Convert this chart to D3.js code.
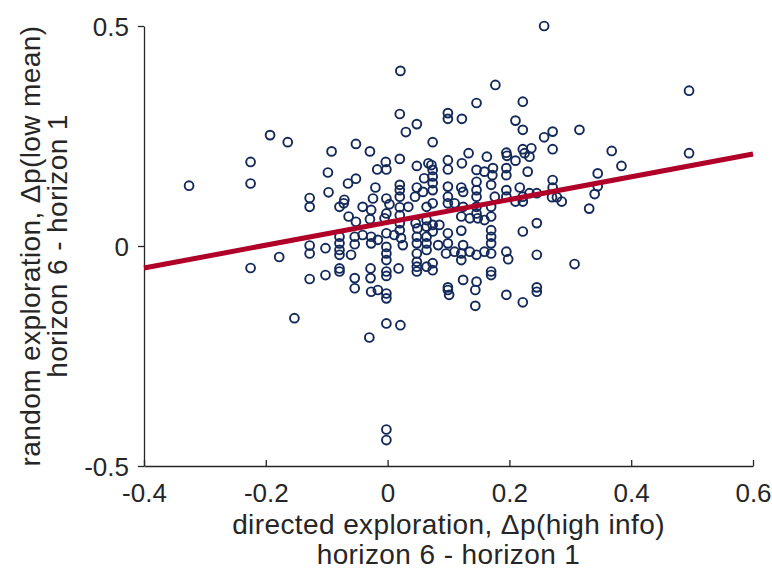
<html>
<head>
<meta charset="utf-8">
<script src="https://cdnjs.cloudflare.com/ajax/libs/d3/7.8.5/d3.min.js"></script>
<style>
body { margin: 0; background: #fff; }
svg { font-family: "Liberation Sans", Arial, sans-serif; }
</style>
</head>
<body>
<svg id="canvas" width="772" height="570"></svg>
<script>
// directed exploration (x) and random exploration (y), horizon 6 - horizon 1
var directedX = [
  -0.326,-0.193,-0.164,-0.225,-0.225,-0.225,-0.178,-0.153,-0.128,-0.128,-0.128,-0.128,-0.102,-0.128,-0.102,-0.092,-0.098,-0.097,
  0.020,0.048,0.030,-0.052,-0.029,0.020,-0.003,-0.002,-0.017,0.048,0.067,-0.052,-0.065,-0.020,0.020,0.020,0.048,0.060,-0.024,-0.002,-0.071,0.020,0.045,0.058,
  -0.072,-0.041,-0.027,0.003,0.020,0.034,0.064,-0.079,-0.064,-0.052,-0.029,-0.005,-0.002,0.020,0.020,0.046,0.049,0.064,0.064,
  -0.079,-0.079,-0.079,-0.079,-0.054,-0.054,-0.041,-0.027,-0.027,-0.016,-0.002,-0.002,-0.002,-0.002,0.011,0.020,0.022,0.025,
  0.048,0.048,0.064,0.064,0.064,0.048,-0.060,-0.079,-0.079,-0.028,-0.028,-0.002,-0.002,0.018,0.048,0.048,0.048,0.064,
  -0.054,-0.054,-0.027,-0.016,-0.002,-0.002,-0.002,0.021,-0.030,-0.002,-0.002,0.101,0.144,0.144,0.195,0.222,0.245,0.099,
  0.146,0.222,0.099,0.099,0.122,0.210,0.222,0.074,0.133,0.163,0.195,0.196,0.222,0.225,0.210,0.099,0.099,0.122,0.146,0.159,
  0.173,0.172,0.195,0.195,0.230,0.072,0.074,0.074,0.146,0.146,0.170,0.195,0.217,0.099,0.121,0.124,0.074,0.074,0.099,0.146,
  0.176,0.195,0.222,
  0.074,0.099,0.110,0.124,0.146,0.146,0.148,0.170,0.170,0.210,0.222,0.074,0.074,0.085,0.099,0.121,0.121,0.135,0.159,0.170,
  0.170,0.170,0.222,0.083,0.099,0.096,0.110,0.124,0.121,0.121,0.135,0.146,0.159,0.170,0.195,0.198,0.074,0.074,0.170,0.170,
  0.124,0.146,0.099,
  0.495,0.495,0.271,0.257,0.315,0.271,0.236,0.233,0.368,0.384,0.345,0.345,0.340,0.331,0.271,0.271,0.270,0.278,0.286,
  0.233,0.245,0.245,0.245,0.307,0.245,0.257,0.021,0.177
];
var randomY = [
  0.137,0.252,0.236,0.191,0.142,-0.050,-0.025,-0.164,0.109,0.089,0.001,-0.017,-0.005,-0.075,-0.066,0.215,0.167,0.122,
  0.300,0.277,0.259,0.232,0.215,0.198,0.191,0.174,0.174,0.182,0.188,0.153,0.142,0.133,0.139,0.127,0.133,0.154,0.108,0.108,0.105,0.112,0.112,0.123,
  0.097,0.089,0.082,0.095,0.088,0.089,0.089,0.089,0.067,0.055,0.061,0.063,0.074,0.070,0.052,0.052,0.040,0.059,0.044,
  0.021,0.006,-0.009,-0.020,0.021,0.004,0.025,0.021,0.006,0.014,0.029,-0.002,-0.017,-0.032,0.025,0.036,0.018,0.002,
  0.021,0.006,0.021,0.006,-0.009,-0.017,-0.020,-0.051,-0.058,-0.051,-0.073,-0.058,-0.068,-0.051,-0.036,-0.047,-0.058,-0.047,
  -0.073,-0.096,-0.104,-0.100,-0.108,-0.119,-0.176,-0.180,-0.208,-0.417,-0.441,-0.111,-0.100,-0.136,-0.111,-0.128,-0.104,-0.100,
  0.325,0.328,0.302,0.289,0.289,0.285,0.264,0.236,0.211,0.203,0.212,0.205,0.220,0.211,0.194,0.195,0.174,0.188,0.173,0.169,
  0.177,0.161,0.177,0.161,0.169,0.184,0.173,0.158,0.146,0.127,0.139,0.127,0.133,0.135,0.133,0.123,0.143,0.127,0.112,0.112,
  0.112,0.112,0.112,
  0.097,0.097,0.097,0.089,0.089,0.074,0.063,0.089,0.067,0.101,0.101,0.048,0.033,0.048,0.029,0.067,0.035,0.063,0.059,0.036,
  0.021,0.006,0.033,0.002,0.006,-0.017,-0.013,0.002,-0.017,-0.032,-0.013,-0.020,-0.013,-0.017,-0.013,-0.030,-0.039,-0.055,-0.058,-0.066,
  -0.077,-0.081,-0.094,
  0.353,0.211,0.260,0.247,0.264,0.220,0.222,0.203,0.216,0.182,0.165,0.136,0.118,0.085,0.150,0.133,0.111,0.111,0.101,
  0.120,0.120,0.052,-0.020,-0.041,-0.094,0.500,0.398,0.366
];
// least-squares line as drawn in the figure
var fitIntercept = 0.0536;
var fitSlope = 0.259;
var xTicks = [-0.4, -0.2, 0, 0.2, 0.4, 0.6];
var yTicks = [-0.5, 0, 0.5];

var svg = d3.select("#canvas");
var axisColor = "#262626";

var x = d3.scaleLinear().domain([-0.4, 0.6]).range([144, 753]);
var y = d3.scaleLinear().domain([-0.5, 0.5]).range([466, 26]);

var points = directedX.map(function(d, i) { return {x: d, y: randomY[i]}; });
var fmt = function(d) { return String(d); };   // plain hyphen like the original

// axes
var xAxis = svg.append("g").attr("transform", "translate(0,466)")
    .call(d3.axisBottom(x).tickValues(xTicks).tickFormat(fmt)
        .tickSizeInner(-6).tickSizeOuter(0).tickPadding(18));
var yAxis = svg.append("g").attr("transform", "translate(144,0)")
    .call(d3.axisLeft(y).tickValues(yTicks).tickFormat(fmt)
        .tickSizeInner(6).tickSizeOuter(0).tickPadding(9));

[xAxis, yAxis].forEach(function(a) {
    a.select(".domain").attr("stroke", axisColor).attr("stroke-width", 1.3);
    a.selectAll(".tick line").attr("stroke", axisColor).attr("stroke-width", 1.3);
    a.selectAll(".tick text").attr("fill", axisColor).style("font-size", "26px")
        .style("font-family", "'Liberation Sans', Arial, sans-serif");
});
xAxis.selectAll(".tick text").attr("dy", "0.71em");
yAxis.selectAll(".tick text").attr("dy", "0.35em");

// points
svg.append("g").selectAll("circle")
    .data(points)
    .enter().append("circle")
    .attr("cx", function(d) { return x(d.x); })
    .attr("cy", function(d) { return y(d.y); })
    .attr("r", 4.4)
    .attr("fill", "none")
    .attr("stroke", "#13295a")
    .attr("stroke-width", 1.9);

// regression line
svg.append("line")
    .attr("x1", x(-0.4)).attr("y1", y(fitIntercept + fitSlope * -0.4))
    .attr("x2", x(0.6)).attr("y2", y(fitIntercept + fitSlope * 0.6))
    .attr("stroke", "#b0002a")
    .attr("stroke-width", 5);

// axis titles
var xl = svg.append("text").attr("text-anchor", "middle").attr("fill", axisColor)
    .style("font-size", "28px").style("letter-spacing", "0.4px");
xl.append("tspan").attr("x", 448.5).attr("y", 534).text("directed exploration, \u0394p(high info)");
xl.append("tspan").attr("x", 448.5).attr("y", 564).text("horizon 6 - horizon 1");

var yl = svg.append("text").attr("text-anchor", "middle").attr("fill", axisColor)
    .style("font-size", "28px").style("letter-spacing", "0.4px")
    .attr("transform", "translate(0,246) rotate(-90)");
yl.append("tspan").attr("x", 0).attr("y", 40).text("random exploration, \u0394p(low mean)");
yl.append("tspan").attr("x", 0).attr("y", 67).text("horizon 6 - horizon 1");
</script>
</body>
</html>
